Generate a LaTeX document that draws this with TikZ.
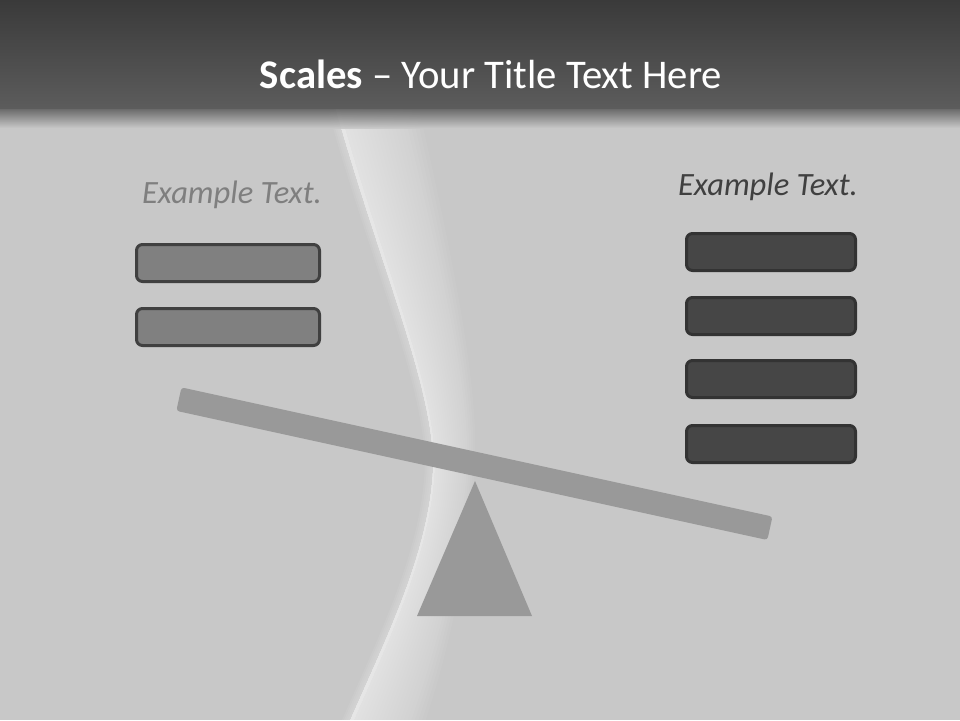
\documentclass[tikz,border=0pt]{standalone}
\usepackage{fontspec}
\setmainfont{Carlito}
\definecolor{bgc}{HTML}{C8C8C8}
\definecolor{bartop}{HTML}{3A3A3A}
\definecolor{barbot}{HTML}{5C5C5C}
\definecolor{lfill}{HTML}{808080}
\definecolor{lline}{HTML}{404040}
\definecolor{rfill}{HTML}{464646}
\definecolor{rline}{HTML}{333333}
\definecolor{beamc}{HTML}{999999}
\definecolor{ltext}{HTML}{7F7F7F}
\definecolor{rtext}{HTML}{404040}
\tikzset{
  lbox/.style={draw=lline, fill=lfill, line width=3pt, rounded corners=6pt, minimum width=183pt, minimum height=37pt, inner sep=0pt},
  rbox/.style={draw=rline, fill=rfill, line width=3pt, rounded corners=6pt, minimum width=169pt, minimum height=37pt, inner sep=0pt},
  extext/.style={font=\fontsize{32.5}{36}\selectfont\itshape, anchor=base, inner sep=0pt},
  beambar/.style={fill=beamc, rounded corners=3pt, minimum width=605pt, minimum height=24pt, inner sep=0pt},
}
\begin{document}
\begin{tikzpicture}[x=1pt,y=-1pt]
\useasboundingbox (0,0) rectangle (960,720);
\fill[bgc] (0,0) rectangle (960,720);
% light swoosh
\foreach \i in {4,8,...,84} {
  \fill[white, opacity=0.042]
    (333,100) .. controls (380,270) and (440,400) .. (432,480)
    .. controls (425,560) and (385,640) .. (350,720)
    -- ({350+0.9*\i},720)
    .. controls ({385+0.8*\i},640) and ({425+0.5*\i},560) .. ({432+0.5*\i},480)
    .. controls ({440+0.5*\i},400) and ({380+0.9*\i},270) .. ({333+\i},100) -- cycle;
}
\foreach \j in {2,4,6,8} {
  \fill[white, opacity=0.06]
    ({333-\j},100) .. controls ({380-\j},270) and ({440-\j},400) .. ({432-\j},480)
    .. controls ({425-\j},560) and ({385-\j},640) .. ({350-\j},720)
    -- (354,720)
    .. controls (389,640) and (427,560) .. (434,480)
    .. controls (442,400) and (384,270) .. (337,100) -- cycle;
}
% title bar
\shade[top color=bartop, bottom color=barbot] (0,0) rectangle (960,108);
\shade[top color=barbot, bottom color=bgc, opacity=0.9] (0,108) rectangle (960,128);
\node[anchor=base, text=white, font=\fontsize{40.7}{48}\selectfont, inner sep=0pt] (title) at (491,88) {\textbf{Scales} -- Your Title Text Here};
% texts
\node[extext, text=ltext] (lt) at (232,203) {Example Text.};
\node[extext, text=rtext] (rt) at (768,195) {Example Text.};
% left boxes
\node[lbox] (l1) at (228,263) {};
\node[lbox] (l2) at (228,327) {};
% right boxes
\node[rbox] (r1) at (771,252) {};
\node[rbox] (r2) at (771,316) {};
\node[rbox] (r3) at (771,379) {};
\node[rbox] (r4) at (771,444) {};
% beam and fulcrum
\fill[beamc] (475,481) -- (532,616) -- (417,616) -- cycle;
\node[beambar, rotate=-12.33] (beam) at (474.4,463.7) {};
\end{tikzpicture}
\end{document}
